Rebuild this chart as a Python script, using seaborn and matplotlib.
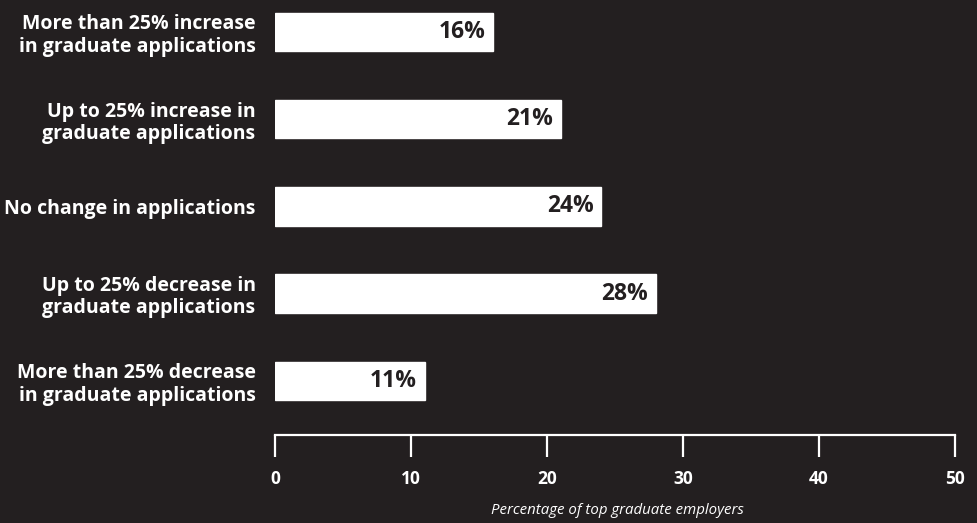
import matplotlib
matplotlib.use("Agg")
import matplotlib.pyplot as plt
import seaborn as sns
import pandas as pd

categories = [
    "More than 25% increase\nin graduate applications",
    "Up to 25% increase in\ngraduate applications",
    "No change in applications",
    "Up to 25% decrease in\ngraduate applications",
    "More than 25% decrease\nin graduate applications",
]
values = [16, 21, 24, 28, 11]
x_ticks = [0, 10, 20, 30, 40, 50]
x_label = "Percentage of top graduate employers"

BG = "#231f20"
FG = "#ffffff"

sns.set_theme(style="white")
plt.rcParams["font.family"] = ["Open Sans", "DejaVu Sans"]

df = pd.DataFrame({"category": categories, "value": values})

fig = plt.figure(figsize=(9.78, 5.23), dpi=100, facecolor=BG)
W, H = 978, 523
left, right, bottom, top = 275, 955, 435, 0
ax = fig.add_axes([left / W, 1 - bottom / H, (right - left) / W, (bottom - top) / H])
ax.set_facecolor(BG)

sns.barplot(data=df, x="value", y="category", orient="h", color=FG,
            saturation=1, width=0.44, ax=ax)

ax.set_xlim(0, 50)
ax.set_ylim(4.62, -0.366)
ax.set_xticks(x_ticks)
ax.set_xticklabels([str(t) for t in x_ticks], fontsize=12.5, fontweight="bold", color=FG)
for lbl in ax.get_yticklabels():
    lbl.set_fontsize(14)
    lbl.set_fontweight("bold")
    lbl.set_color(FG)
    lbl.set_horizontalalignment("right")
    lbl.set_multialignment("right")
    lbl.set_linespacing(1.15)

ax.tick_params(axis="y", left=False, length=0, pad=14)
ax.tick_params(axis="x", bottom=True, direction="out", length=16, width=1.6,
               color=FG, pad=9)

for s in ["top", "right", "left"]:
    ax.spines[s].set_visible(False)
ax.spines["bottom"].set_color(FG)
ax.spines["bottom"].set_linewidth(1.6)

ax.set_xlabel("")
ax.set_ylabel("")
fig.text(0.6315, 1 - 511 / H, x_label, ha="center", va="center",
         fontsize=10.8, fontstyle="italic", color=FG)

for i, v in enumerate(values):
    ax.text(v - 0.55, i, f"{v}%", ha="right", va="center", fontsize=16.5,
            fontweight="bold", color=BG)

fig.savefig("out.png", dpi=100, facecolor=BG)
